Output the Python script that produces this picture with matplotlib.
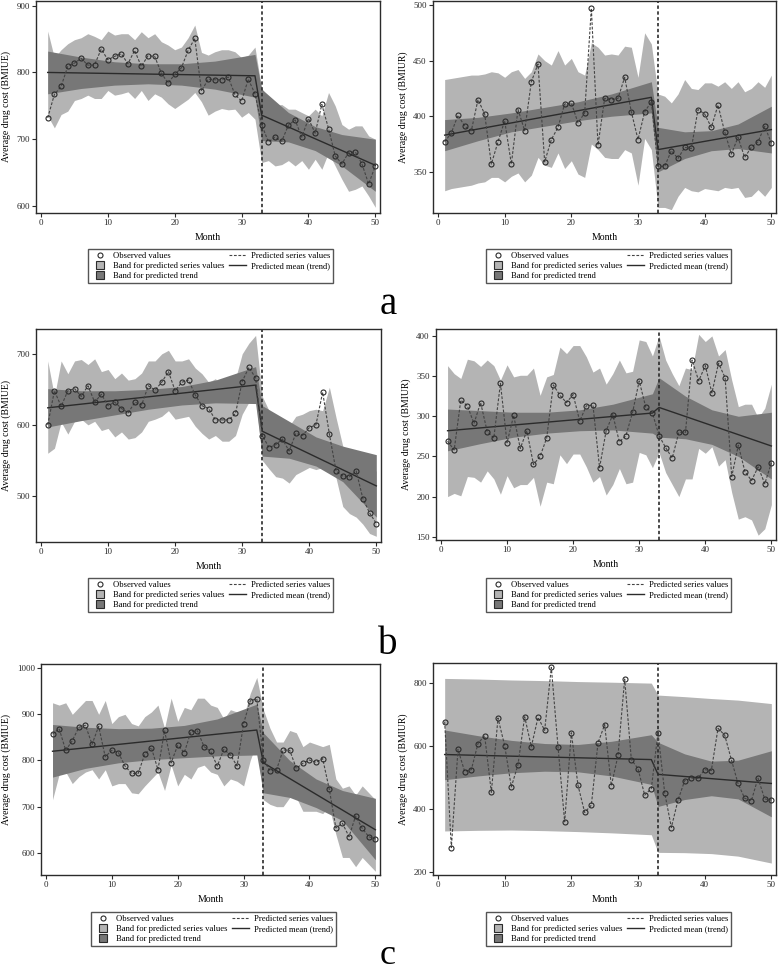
#Interrupted time series of average drug cost, six panels (a, b, c), left BMIUE and right BMIUR.
import matplotlib.pyplot as plt
from matplotlib.lines import Line2D

plt.rcParams['font.family'] = ['Liberation Serif', 'DejaVu Serif']

months = list(range(1, 51))
band_months = [1, 6, 11, 16, 21, 26, 32, 33, 37, 41, 45, 50]
trend_months = [1, 32, 33, 50]
break_month = 33
month_ticks = [0, 10, 20, 30, 40, 50]

#panel a, left (BMIUE)
obs_a_left = [732, 767, 779, 809, 814, 821, 811, 811, 835, 819, 824, 828, 813, 833, 809, 825, 824, 799, 784, 797,
              807, 833, 851, 772, 790, 789, 789, 793, 767, 757, 790, 768, 722, 696, 703, 697, 721, 729, 703, 731,
              709, 752, 716, 675, 663, 680, 681, 663, 633, 660]
series_hi_a_left = [862, 822, 834, 843, 849, 852, 858, 854, 849, 862, 856, 858, 858, 849, 861, 852, 858, 846, 841, 834,
                    838, 852, 871, 830, 826, 831, 834, 834, 831, 822, 826, 838, 776, 763, 750, 752, 745, 745, 740, 735,
                    745, 735, 770, 750, 722, 715, 720, 720, 705, 700]
series_lo_a_left = [735, 717, 737, 742, 758, 761, 766, 761, 761, 773, 766, 768, 771, 761, 773, 758, 768, 763, 753, 746,
                    753, 760, 770, 756, 736, 742, 746, 744, 745, 733, 740, 730, 665, 668, 660, 662, 668, 660, 668, 655,
                    670, 655, 680, 660, 640, 622, 625, 630, 615, 598]
trend_lo_a_left = [768, 776, 781, 783, 781, 775, 763, 698, 696, 683, 660, 622]
trend_hi_a_left = [832, 823, 816, 813, 813, 817, 827, 775, 740, 719, 707, 700]
trend_a_left = [800, 795, 736, 661]

#panel a, right (BMIUR)
obs_a_right = [377, 385, 401, 391, 387, 415, 402, 357, 377, 396, 357, 406, 387, 431, 447, 359, 379, 390, 411, 412,
               394, 403, 497, 374, 416, 415, 416, 435, 404, 379, 404, 413, 355, 355, 369, 362, 372, 371, 406, 402,
               390, 410, 386, 366, 381, 363, 372, 377, 391, 376]
series_hi_a_right = [433, 434, 435, 436, 437, 437, 438, 440, 439, 435, 440, 442, 434, 440, 456, 450, 446, 459, 446, 452,
                     440, 437, 466, 462, 455, 456, 455, 463, 462, 435, 475, 465, 420, 418, 412, 420, 433, 425, 424, 430,
                     430, 427, 431, 425, 431, 422, 425, 431, 426, 437]
series_lo_a_right = [333, 335, 336, 337, 338, 340, 341, 345, 345, 341, 346, 349, 341, 347, 363, 356, 354, 367, 353, 360,
                     348, 345, 375, 370, 363, 362, 362, 370, 367, 338, 380, 370, 318, 318, 316, 328, 336, 333, 332, 335,
                     334, 333, 336, 335, 336, 327, 328, 334, 328, 336]
trend_lo_a_right = [369, 378, 386, 391, 396, 400, 403, 350, 362, 369, 371, 367]
trend_hi_a_right = [397, 399, 403, 408, 413, 420, 431, 390, 386, 387, 393, 409]
trend_a_right = [383, 417, 370, 388]

#panel b, left
obs_b_left = [600, 648, 626, 648, 651, 640, 655, 632, 643, 627, 632, 623, 617, 632, 628, 655, 649, 660, 675, 648,
              660, 663, 642, 627, 623, 607, 607, 607, 616, 661, 681, 666, 585, 568, 572, 580, 563, 588, 585, 596,
              600, 646, 587, 535, 528, 527, 535, 496, 476, 461]
series_hi_b_left = [690, 640, 690, 672, 690, 692, 685, 693, 675, 678, 665, 673, 663, 665, 673, 690, 690, 700, 705, 690,
                    690, 693, 680, 672, 660, 665, 655, 650, 665, 700, 715, 726, 640, 620, 610, 605, 598, 612, 615, 620,
                    622, 620, 653, 610, 570, 560, 545, 540, 535, 535]
series_lo_b_left = [560, 567, 604, 587, 605, 608, 600, 605, 592, 595, 583, 590, 580, 582, 590, 605, 608, 612, 620, 608,
                    610, 612, 598, 588, 580, 585, 577, 577, 585, 615, 632, 640, 550, 538, 527, 525, 518, 530, 535, 540,
                    537, 540, 567, 525, 485, 475, 470, 460, 447, 443]
trend_lo_b_left = [597, 606, 614, 622, 628, 631, 630, 556, 553, 542, 520, 470]
trend_hi_b_left = [651, 648, 648, 650, 654, 663, 682, 627, 605, 583, 570, 558]
trend_b_left = [624, 656, 591, 514]

#panel b, right
obs_b_right = [269, 258, 320, 313, 291, 317, 281, 273, 341, 267, 301, 260, 282, 240, 250, 273, 339, 326, 317, 327,
               294, 313, 314, 236, 282, 302, 268, 276, 305, 344, 311, 304, 276, 261, 248, 280, 280, 370, 344, 363,
               329, 366, 348, 225, 264, 231, 220, 237, 216, 242]
series_hi_b_right = [363, 353, 347, 371, 369, 362, 370, 363, 345, 364, 349, 351, 351, 360, 326, 349, 352, 386, 378, 388,
                     388, 374, 355, 360, 340, 353, 370, 354, 356, 395, 393, 375, 400, 370, 353, 338, 360, 358, 402, 393,
                     400, 375, 383, 345, 312, 315, 315, 298, 310, 340]
series_lo_b_right = [200, 204, 201, 225, 224, 218, 232, 222, 203, 226, 211, 215, 215, 224, 188, 218, 216, 252, 241, 253,
                     253, 237, 218, 225, 202, 215, 235, 216, 218, 255, 252, 236, 255, 230, 215, 200, 222, 222, 260, 254,
                     262, 238, 246, 205, 172, 175, 171, 152, 160, 190]
trend_lo_b_right = [257, 266, 274, 279, 282, 283, 279, 274, 272, 265, 250, 222]
trend_hi_b_right = [309, 307, 305, 305, 308, 315, 328, 348, 325, 308, 300, 305]
trend_b_right = [282, 304, 311, 263]

#panel c, left
obs_c_left = [857, 869, 822, 843, 872, 876, 835, 874, 808, 822, 817, 788, 772, 772, 814, 828, 780, 865, 795, 833,
              817, 862, 864, 830, 820, 788, 824, 812, 788, 880, 929, 934, 801, 778, 780, 823, 822, 783, 794, 801,
              796, 804, 738, 654, 664, 635, 680, 653, 635, 630]
series_hi_c_left = [925, 920, 925, 900, 915, 930, 930, 900, 930, 880, 895, 900, 880, 875, 895, 905, 920, 870, 935, 885,
                    915, 910, 935, 935, 920, 915, 890, 910, 905, 895, 945, 980, 910, 870, 840, 840, 865, 860, 830, 840,
                    835, 830, 835, 760, 740, 745, 725, 745, 730, 715]
series_lo_c_left = [715, 770, 775, 750, 765, 775, 780, 760, 780, 745, 750, 750, 730, 728, 745, 760, 775, 735, 790, 745,
                    770, 760, 785, 790, 775, 770, 745, 760, 755, 745, 800, 840, 715, 705, 700, 700, 720, 720, 690, 690,
                    690, 685, 700, 640, 590, 590, 570, 590, 575, 560]
trend_lo_c_left = [764, 783, 795, 802, 806, 810, 812, 730, 720, 698, 670, 585]
trend_hi_c_left = [878, 872, 869, 870, 876, 890, 922, 860, 800, 760, 735, 718]
trend_c_left = [820, 866, 795, 650]

#panel c, right (series band is smooth here, read at band_months)
obs_c_right = [678, 277, 589, 519, 525, 608, 633, 453, 689, 601, 470, 541, 693, 598, 691, 650, 850, 598, 359, 642,
               475, 389, 412, 610, 668, 474, 570, 813, 557, 528, 444, 465, 643, 452, 341, 428, 490, 498, 497, 525,
               522, 656, 635, 557, 481, 434, 426, 498, 432, 428]
series_hi_c_right = [815, 813, 810, 808, 805, 803, 800, 762, 757, 751, 746, 735]
series_lo_c_right = [330, 332, 333, 331, 328, 324, 318, 262, 261, 258, 250, 228]
trend_lo_c_right = [493, 505, 515, 520, 518, 505, 478, 408, 430, 442, 432, 375]
trend_hi_c_right = [651, 633, 618, 608, 605, 615, 636, 612, 575, 552, 555, 585]
trend_c_right = [573, 557, 510, 481]

ylabel_left = "Average drug cost (BMIUE)"
ylabel_right = "Average drug cost (BMIUR)"

light = "#b4b4b4"
dark = "#777777"
ink = "#2b2b2b"

W, H = 778, 974

def frac(x0, y0, x1, y1):
    #pixel box (from top left) to figure fraction rect
    return [x0/W, 1 - y1/H, (x1 - x0)/W, (y1 - y0)/H]

panels = [
    (frac(36, 1, 380, 213), obs_a_left, months, series_lo_a_left, series_hi_a_left, trend_lo_a_left, trend_hi_a_left,
     trend_a_left, (589.5, 907), [600, 700, 800, 900], ylabel_left, (88, 249)),
    (frac(433, 1, 776, 213), obs_a_right, months, series_lo_a_right, series_hi_a_right, trend_lo_a_right, trend_hi_a_right,
     trend_a_right, (313, 503.6), [350, 400, 450, 500], ylabel_right, (486, 249)),
    (frac(36, 329, 381, 542), obs_b_left, months, series_lo_b_left, series_hi_b_left, trend_lo_b_left, trend_hi_b_left,
     trend_b_left, (435, 735), [500, 600, 700], ylabel_left, (88, 578)),
    (frac(436, 329, 776, 540), obs_b_right, months, series_lo_b_right, series_hi_b_right, trend_lo_b_right, trend_hi_b_right,
     trend_b_right, (146, 408.6), [150, 200, 250, 300, 350, 400], ylabel_right, (486, 578)),
    (frac(41, 664, 380, 875), obs_c_left, months, series_lo_c_left, series_hi_c_left, trend_lo_c_left, trend_hi_c_left,
     trend_c_left, (552, 1009), [600, 700, 800, 900, 1000], ylabel_left, (91, 912)),
    (frac(433, 663, 776, 875), obs_c_right, band_months, series_lo_c_right, series_hi_c_right, trend_lo_c_right, trend_hi_c_right,
     trend_c_right, (190, 864), [200, 400, 600, 800], ylabel_right, (486, 912)),
]

fig = plt.figure(figsize=(W/100, H/100), dpi=100)

legend_handles = [
    Line2D([], [], marker='o', ls='none', mfc='none', mec=ink, mew=0.8, ms=3.6),
    Line2D([], [], marker='s', ls='none', mfc=light, mec=ink, mew=0.8, ms=6),
    Line2D([], [], marker='s', ls='none', mfc=dark, mec=ink, mew=0.8, ms=6),
    Line2D([], [], color='#444444', lw=0.8, dashes=(2.5, 1.5)),
    Line2D([], [], color=ink, lw=1.0),
]
legend_labels = ["Observed values", "Band for predicted series values", "Band for predicted trend",
                 "Predicted series values", "Predicted mean (trend)"]

for rect, obs, series_x, s_lo, s_hi, t_lo, t_hi, trend, ylim, yticks, ylabel, leg_xy in panels:
    ax = fig.add_axes(rect)
    ax.fill_between(series_x, s_lo, s_hi, color=light, lw=0, zorder=1)
    ax.fill_between(band_months, t_lo, t_hi, color=dark, lw=0, zorder=2)
    ax.plot(trend_months, trend, color=ink, lw=1.0, zorder=3)
    ax.axvline(break_month, color=ink, lw=1.2, dashes=(2, 1.5), zorder=3)
    ax.plot(months, obs, color='#444444', lw=0.8, dashes=(2.5, 1.5), zorder=4)
    ax.plot(months, obs, 'o', ms=3.6, mfc='none', mec=ink, mew=0.8, zorder=5)

    ax.set_xlim(-0.75, 50.7)
    ax.set_ylim(*ylim)
    ax.set_xticks(month_ticks)
    ax.set_yticks(yticks)
    ax.tick_params(direction='out', length=3, width=0.8, labelsize=6.5, pad=1.5, colors=ink)
    for s in ax.spines.values():
        s.set_linewidth(1.0)
        s.set_color(ink)
    ax.set_xlabel("Month", fontsize=7, labelpad=4)
    ax.set_ylabel(ylabel, fontsize=7, labelpad=4)

    leg = ax.legend(legend_handles, legend_labels, ncol=2, loc='upper left',
                    bbox_to_anchor=(leg_xy[0]/W, 1 - leg_xy[1]/H), bbox_transform=fig.transFigure,
                    fontsize=6.2, frameon=True, fancybox=False, borderpad=0.35, labelspacing=0.25,
                    handlelength=2.0, handletextpad=0.5, columnspacing=0.6, borderaxespad=0)
    leg.get_frame().set_edgecolor(ink)
    leg.get_frame().set_linewidth(1.0)

fig.text(388/W, 1 - 314/H, "a", ha='center', va='baseline', fontsize=28)
fig.text(388/W, 1 - 654/H, "b", ha='center', va='baseline', fontsize=28)
fig.text(388/W, 1 - 964/H, "c", ha='center', va='baseline', fontsize=26)

fig.savefig("out.png", dpi=100)
